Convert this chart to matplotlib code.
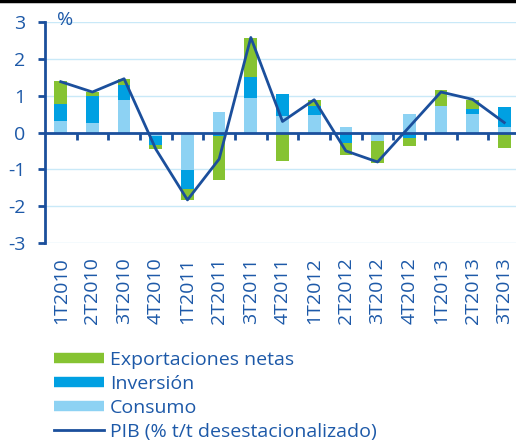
import numpy as np
import matplotlib.pyplot as plt
from matplotlib.lines import Line2D

plt.rcParams['font.family'] = ['Open Sans', 'DejaVu Sans']
plt.rcParams['axes.unicode_minus'] = False

quarters = ['1T2010', '2T2010', '3T2010', '4T2010', '1T2011', '2T2011', '3T2011', '4T2011',
            '1T2012', '2T2012', '3T2012', '4T2012', '1T2013', '2T2013', '3T2013']
consumo = [0.30, 0.25, 0.87, -0.10, -1.01, 0.55, 0.95, 0.45, 0.48, 0.14, -0.22, 0.50, 0.71, 0.51, 0.15]
inversion = [0.47, 0.75, 0.41, -0.23, -0.53, -0.10, 0.55, 0.60, 0.23, -0.29, 0.00, -0.15, -0.05, 0.14, 0.53]
exportaciones = [0.62, 0.09, 0.17, -0.13, -0.30, -1.18, 1.06, -0.77, 0.17, -0.32, -0.60, -0.21, 0.45, 0.24, -0.41]
pib = [1.38, 1.10, 1.46, -0.45, -1.83, -0.72, 2.58, 0.30, 0.89, -0.50, -0.80, 0.15, 1.10, 0.90, 0.27]

c_green = '#86c332'
c_inv = '#00a0e2'
c_cons = '#8dd2f3'
c_line = '#1b4f9c'
c_text = '#1d59a8'
c_grid = '#c9e9f8'

fig = plt.figure(figsize=(5.16, 4.44), dpi=100)
ax = fig.add_axes([0.087, 0.4527, 0.921, 0.4977])

x = np.arange(len(quarters))
pos = np.zeros(len(x))
neg = np.zeros(len(x))
for vals, col in [(consumo, c_cons), (inversion, c_inv), (exportaciones, c_green)]:
    v = np.array(vals)
    bottom = np.where(v >= 0, pos, neg)
    ax.bar(x, v, 0.4, bottom=bottom, color=col, zorder=2)
    pos = pos + np.clip(v, 0, None)
    neg = neg + np.clip(v, None, 0)

ax.plot(x, pib, color=c_line, lw=2, zorder=4)
ax.axhline(0, color=c_line, lw=2, zorder=3)

ax.set_xlim(-0.5, 14.5)
ax.set_ylim(-3, 3)
ax.set_yticks(range(-3, 4))
ax.grid(axis='y', color=c_grid, lw=1, zorder=0)
ax.set_axisbelow(True)

for s in ['top', 'right', 'bottom']:
    ax.spines[s].set_visible(False)
ax.spines['left'].set_color(c_line)
ax.spines['left'].set_linewidth(2)
ax.tick_params(axis='y', colors=c_line, labelcolor=c_text, length=5, width=2,
               labelsize=14, pad=9)
ax.set_xticks(x)
ax.set_xticklabels(quarters, rotation=90)
ax.tick_params(axis='x', length=0, labelsize=14, labelcolor=c_text, pad=10)

# tick marks on the zero line between quarters
sec = ax.secondary_xaxis(0.5)
sec.set_xticks(np.arange(0.5, 14.5, 1))
sec.tick_params(direction='in', length=5, width=2, colors=c_line, labelbottom=False,
                labeltop=False, top=True)
sec.spines['top'].set_visible(False)
sec.spines['bottom'].set_visible(False)

fig.text(57 / 516, 1 - 20 / 444, '%', color=c_text, fontsize=14, va='center')
fig.add_artist(Line2D([0, 1], [0.997, 0.997], transform=fig.transFigure, color='black', lw=2.5))

handles = [
    Line2D([], [], color=c_green, lw=7.5, solid_capstyle='butt'),
    Line2D([], [], color=c_inv, lw=7.5, solid_capstyle='butt'),
    Line2D([], [], color=c_cons, lw=7.5, solid_capstyle='butt'),
    Line2D([], [], color=c_line, lw=2),
]
labels = ['Exportaciones netas', 'Inversión', 'Consumo', 'PIB (% t/t desestacionalizado)']
leg = fig.legend(handles, labels, loc='upper left', bbox_to_anchor=(54 / 516, 1 - 351 / 444),
                 frameon=False, fontsize=14, handlelength=2.58, handletextpad=0.3,
                 labelspacing=0.3, borderpad=0, borderaxespad=0)
for t in leg.get_texts():
    t.set_color(c_text)

fig.savefig('out.png', dpi=100)
